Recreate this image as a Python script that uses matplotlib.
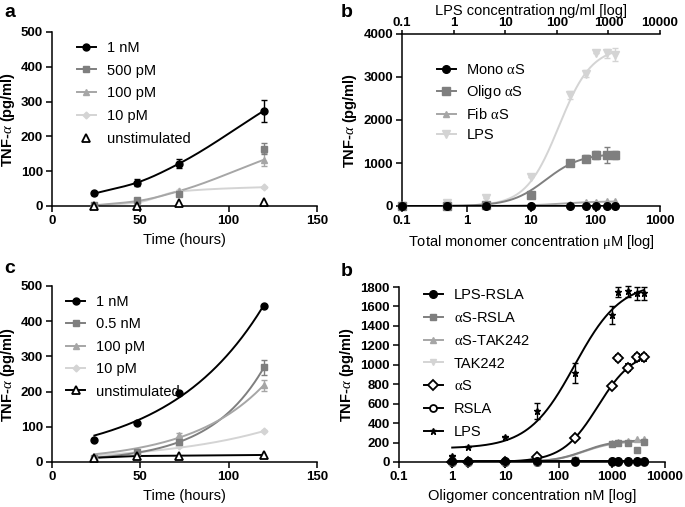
import numpy as np
import matplotlib
matplotlib.use("Agg")
import matplotlib.pyplot as plt
from matplotlib.lines import Line2D
from matplotlib.ticker import FuncFormatter, NullLocator, FixedLocator

plt.rcParams['font.family'] = ['Liberation Sans', 'DejaVu Sans']
plt.rcParams['mathtext.fontset'] = 'custom'
plt.rcParams['mathtext.rm'] = 'Liberation Serif'
plt.rcParams['mathtext.it'] = 'Liberation Serif:italic'

# ---------------- data ----------------
# panel a
a_time = [24, 48, 72, 120]
a_1nM = [36, 67, 122, 274]
a_1nM_err = [3, 10, 13, 32]
a_500pM = [4, 17, 34, 165]
a_500pM_err = [2, 4, 5, 17]
a_100pM = [2, 14, 43, 133]
a_100pM_err = [1, 3, 4, 18]
a_10pM = [1, 10, 42, 54]
a_10pM_err = [0.5, 1, 2, 2]
a_unstim = [0, 0, 10, 12]

# panel b (top right)
b_conc = [0.1, 0.5, 2, 10, 40, 70, 100, 150, 200]
b_mono = [0, 0, 0, 0, 0, 0, 0, 0, 0]
b_oligo = [0, 10, 30, 260, 1000, 1100, 1190, 1190, 1190]
b_oligo_err = [0, 0, 0, 0, 60, 80, 90, 180, 100]
b_fib = [0, 5, 10, 20, 50, 100, 100, 105, 105]
b_lps = [0, 60, 190, 680, 2580, 3080, 3560, 3550, 3520]
b_lps_err = [0, 0, 0, 0, 100, 90, 0, 100, 150]
b_top_ticks = [0.1, 1, 10, 100, 1000, 10000]

# panel c
c_time = [24, 48, 72, 120]
c_1nM = [62, 112, 195, 444]
c_05nM = [10, 27, 57, 269]
c_05nM_err = [2, 3, 4, 22]
c_100pM = [12, 30, 76, 218]
c_100pM_err = [2, 3, 5, 15]
c_10pM = [10, 25, 45, 87]
c_10pM_err = [1, 2, 2, 3]
c_unstim = [12, 17, 18, 20]

# panel d (bottom right)
d_conc = [1, 2, 10, 40, 200, 1000, 1300, 2000, 3000, 4000]
d_lps_rsla = [10, 10, 10, 10, 10, 10, 10, 10, 10, 10]
d_as_rsla = [0, 0, 0, 5, 20, 190, 200, 200, 125, 205]
d_as_tak = [0, 0, 0, 5, 30, 200, 210, 215, 235, 240]
d_tak = [0, 0, 0, 0, 0, 0, 0, 0, 0, 0]
d_as = [0, 0, 0, 55, 247, 778, 1070, 970, 1075, 1075]
d_as_err = [0, 0, 0, 0, 0, 0, 30, 35, 35, 35]
d_rsla = [0, 0, 0, 0, 0, 0, 0, 0, 0, 0]
d_lps = [60, 150, 260, 525, 915, 1510, 1750, 1755, 1735, 1735]
d_lps_err = [0, 0, 0, 85, 100, 95, 55, 60, 70, 70]

# fitted sigmoid parameters (bottom, top, EC50, Hill slope)
fit_b_oligo = (0, 1220, 17, 1.6)
fit_b_fib = (0, 110, 30, 1.5)
fit_b_lps = (0, 3700, 27, 1.7)
fit_d_lps = (140, 1850, 200, 1.0)
fit_d_as = (0, 1150, 550, 1.3)
fit_d_asrsla = (0, 215, 300, 1.5)

BLACK = '#000000'
DGRAY = '#7f7f7f'
MGRAY = '#a6a6a6'
LGRAY = '#d4d4d4'
AL = r'$\mathrm{\alpha}$'


def hill(x, p):
    b, t, ec, n = p
    return b + (t - b) / (1 + (ec / x) ** n)


def pchip(x, y, xn):
    x = np.asarray(x, float); y = np.asarray(y, float)
    h = np.diff(x); d = np.diff(y) / h
    m = np.zeros_like(y)
    for k in range(1, len(x) - 1):
        if d[k - 1] * d[k] > 0:
            w1 = 2 * h[k] + h[k - 1]; w2 = h[k] + 2 * h[k - 1]
            m[k] = (w1 + w2) / (w1 / d[k - 1] + w2 / d[k])
    m[0] = d[0]; m[-1] = d[-1] * 0.6 if d[-1] < d[-2] else d[-1]
    out = np.empty_like(xn, dtype=float)
    for i, xv in enumerate(xn):
        k = min(max(np.searchsorted(x, xv) - 1, 0), len(x) - 2)
        t = (xv - x[k]) / h[k]
        h00 = 2 * t**3 - 3 * t**2 + 1; h10 = t**3 - 2 * t**2 + t
        h01 = -2 * t**3 + 3 * t**2; h11 = t**3 - t**2
        out[i] = h00 * y[k] + h10 * h[k] * m[k] + h01 * y[k + 1] + h11 * h[k] * m[k + 1]
    return out


def expfit(x, y, xn):
    x = np.asarray(x, float); y = np.asarray(y, float)
    k, c = np.polyfit(x, np.log(y), 1, w=y)
    return np.exp(c + k * np.asarray(xn))


TFS = 9.5
LABELFS = 10.5
LEGFS = 10.5


def style(ax):
    for s in ['top', 'right']:
        ax.spines[s].set_visible(False)
    for s in ['left', 'bottom']:
        ax.spines[s].set_linewidth(1.1)
    ax.tick_params(width=1.1, length=4, direction='out', pad=2.5)
    for lab in ax.get_xticklabels() + ax.get_yticklabels():
        lab.set_fontweight('bold'); lab.set_fontsize(TFS)


def ylab(ax):
    ax.set_ylabel(r'TNF-$\alpha$ (pg/ml)', fontsize=LABELFS, fontweight='bold', labelpad=3)


fig = plt.figure(figsize=(6.85, 5.07), dpi=100)
W, H = 685, 507


def rect(l, r, t, b):
    return [l / W, (H - b) / H, (r - l) / W, (b - t) / H]


ax_a = fig.add_axes(rect(52, 317, 32, 206))
ax_b = fig.add_axes(rect(402, 660, 34, 206))
ax_c = fig.add_axes(rect(52, 317, 286, 462))
ax_d = fig.add_axes(rect(399, 665, 287, 462))

ebkw = dict(capsize=2.5, elinewidth=1.0, capthick=1.0, linestyle='none', clip_on=False, zorder=3)
legkw = dict(loc='upper left', frameon=False, fontsize=LEGFS, handlelength=1.3,
             handletextpad=0.75, borderaxespad=0.2)

# ---------------- panel a ----------------
tt = np.linspace(24, 120, 200)
ax_a.plot(tt, pchip(a_time, a_1nM, tt), color=BLACK, lw=1.4, zorder=2)
ax_a.plot(tt, pchip(a_time, a_100pM, tt), color=MGRAY, lw=1.4, zorder=2)
ax_a.plot(tt, pchip(a_time, a_10pM, tt), color=LGRAY, lw=1.4, zorder=1)
ax_a.errorbar(a_time, a_10pM, yerr=a_10pM_err, marker='D', ms=3.5, color=LGRAY, **ebkw)
ax_a.errorbar(a_time, a_100pM, yerr=a_100pM_err, marker='^', ms=5, color=MGRAY, **ebkw)
ax_a.errorbar(a_time, a_500pM, yerr=a_500pM_err, marker='s', ms=5, color=DGRAY, **ebkw)
ax_a.errorbar(a_time, a_1nM, yerr=a_1nM_err, marker='o', ms=5, color=BLACK, **ebkw)
ax_a.plot(a_time, a_unstim, linestyle='none', marker='^', ms=6, mfc='white', mec=BLACK, mew=1.3,
          clip_on=False, zorder=4)
ax_a.set_xlim(0, 150); ax_a.set_ylim(0, 500)
ax_a.set_xticks([0, 50, 100, 150]); ax_a.set_yticks([0, 100, 200, 300, 400, 500])
ax_a.set_xlabel('Time (hours)', fontsize=LABELFS)
ylab(ax_a)
style(ax_a)
h_a = [Line2D([], [], color=BLACK, marker='o', ms=5, lw=1.4),
       Line2D([], [], color=DGRAY, marker='s', ms=5, lw=1.4),
       Line2D([], [], color=MGRAY, marker='^', ms=5, lw=1.4),
       Line2D([], [], color=LGRAY, marker='D', ms=3.5, lw=1.4),
       Line2D([], [], color=BLACK, marker='^', ms=6, mfc='white', mew=1.3, lw=0)]
ax_a.legend(h_a, ['1 nM', '500 pM', '100 pM', '10 pM', 'unstimulated'],
            bbox_to_anchor=(0.06, 1.0), labelspacing=0.6, **legkw)

# ---------------- panel b ----------------
xx = np.logspace(np.log10(0.5), np.log10(200), 300)
ax_b.plot([0.1, 200], [0, 0], color=BLACK, lw=1.4, zorder=2)
ax_b.plot(xx, hill(xx, fit_b_lps), color=LGRAY, lw=1.4, zorder=1)
ax_b.plot(xx, hill(xx, fit_b_oligo), color=DGRAY, lw=1.4, zorder=1)
ax_b.plot(xx, hill(xx, fit_b_fib), color=MGRAY, lw=1.4, zorder=1)
ax_b.errorbar(b_conc, b_lps, yerr=b_lps_err, marker='v', ms=5.5, color=LGRAY, **ebkw)
ax_b.errorbar(b_conc, b_fib, marker='^', ms=5, color=MGRAY, **ebkw)
ax_b.errorbar(b_conc, b_oligo, yerr=b_oligo_err, marker='s', ms=5.5, color=DGRAY, **ebkw)
ax_b.errorbar(b_conc, b_mono, marker='o', ms=5.5, color=BLACK, **ebkw)
ax_b.set_xscale('log'); ax_b.set_xlim(0.1, 1000); ax_b.set_ylim(0, 4000)
ax_b.xaxis.set_major_locator(FixedLocator([0.1, 1, 10, 100, 1000]))
ax_b.xaxis.set_minor_locator(NullLocator())
ax_b.xaxis.set_major_formatter(FuncFormatter(lambda v, p: f'{v:g}'))
ax_b.set_yticks([0, 1000, 2000, 3000, 4000])
ax_b.set_xlabel(r'Total monomer concentration $\mathrm{\mu}$M [log]', fontsize=LABELFS)
ylab(ax_b)
style(ax_b)
ax_b2 = ax_b.twiny()
ax_b2.set_xscale('log'); ax_b2.set_xlim(0.1, 10000)
ax_b2.xaxis.set_major_locator(FixedLocator(b_top_ticks))
ax_b2.xaxis.set_minor_locator(NullLocator())
ax_b2.xaxis.set_major_formatter(FuncFormatter(lambda v, p: f'{v:g}'))
for s in ['left', 'right', 'bottom']:
    ax_b2.spines[s].set_visible(False)
ax_b2.spines['top'].set_linewidth(1.1)
ax_b2.tick_params(width=1.1, length=3, direction='out', pad=0.5)
for lab in ax_b2.get_xticklabels():
    lab.set_fontweight('bold'); lab.set_fontsize(TFS)
ax_b2.set_xlabel('LPS concentration ng/ml [log]', fontsize=LABELFS, labelpad=1.5)
h_b = [Line2D([], [], color=BLACK, marker='o', ms=5.5, lw=1.4),
       Line2D([], [], color=DGRAY, marker='s', ms=5.5, lw=1.4),
       Line2D([], [], color=MGRAY, marker='^', ms=5, lw=1.4),
       Line2D([], [], color=LGRAY, marker='v', ms=5.5, lw=1.4)]
ax_b.legend(h_b, ['Mono ' + AL + 'S', 'Oligo ' + AL + 'S', 'Fib ' + AL + 'S', 'LPS'],
            bbox_to_anchor=(0.1, 0.88), labelspacing=0.4, **legkw)

# ---------------- panel c ----------------
ax_c.plot(tt, expfit(c_time, c_1nM, tt), color=BLACK, lw=1.4, zorder=2)
ax_c.plot(tt, expfit(c_time, c_05nM, tt), color=DGRAY, lw=1.4, zorder=2)
ax_c.plot(tt, expfit(c_time, c_100pM, tt), color=MGRAY, lw=1.4, zorder=2)
ax_c.plot(tt, expfit(c_time, c_10pM, tt), color=LGRAY, lw=1.4, zorder=1)
ax_c.plot(c_time, c_unstim, color=BLACK, lw=1.4, zorder=2)
ax_c.errorbar(c_time, c_10pM, yerr=c_10pM_err, marker='D', ms=3.5, color=LGRAY, **ebkw)
ax_c.errorbar(c_time, c_100pM, yerr=c_100pM_err, marker='^', ms=5, color=MGRAY, **ebkw)
ax_c.errorbar(c_time, c_05nM, yerr=c_05nM_err, marker='s', ms=5, color=DGRAY, **ebkw)
ax_c.errorbar(c_time, c_1nM, marker='o', ms=5, color=BLACK, **ebkw)
ax_c.plot(c_time, c_unstim, linestyle='none', marker='^', ms=6, mfc='white', mec=BLACK, mew=1.3,
          clip_on=False, zorder=4)
ax_c.set_xlim(0, 150); ax_c.set_ylim(0, 500)
ax_c.set_xticks([0, 50, 100, 150]); ax_c.set_yticks([0, 100, 200, 300, 400, 500])
ax_c.set_xlabel('Time (hours)', fontsize=LABELFS)
ylab(ax_c)
style(ax_c)
h_c = [Line2D([], [], color=BLACK, marker='o', ms=5, lw=1.4),
       Line2D([], [], color=DGRAY, marker='s', ms=5, lw=1.4),
       Line2D([], [], color=MGRAY, marker='^', ms=5, lw=1.4),
       Line2D([], [], color=LGRAY, marker='D', ms=3.5, lw=1.4),
       Line2D([], [], color=BLACK, marker='^', ms=6, mfc='white', mew=1.3, lw=1.4)]
ax_c.legend(h_c, ['1 nM', '0.5 nM', '100 pM', '10 pM', 'unstimulated'],
            bbox_to_anchor=(0.02, 1.0), labelspacing=0.58, **legkw)

# ---------------- panel d ----------------
xd = np.logspace(0, np.log10(4000), 300)
ax_d.plot(xd, hill(xd, fit_d_asrsla), color=MGRAY, lw=1.4, zorder=1)
ax_d.plot(xd, hill(xd, fit_d_asrsla) * 1.05, color=DGRAY, lw=1.4, zorder=1)
ax_d.plot(xd, hill(xd, fit_d_lps), color=BLACK, lw=1.4, zorder=2)
ax_d.plot(xd, hill(xd, fit_d_as), color=BLACK, lw=1.4, zorder=2)
ax_d.errorbar(d_conc, d_tak, marker='v', ms=5, color=LGRAY, **ebkw)
ax_d.errorbar(d_conc, d_rsla, marker='o', ms=5, mfc='white', color=BLACK, mew=1.3, **ebkw)
ax_d.errorbar(d_conc, d_as, yerr=d_as_err, marker='D', ms=5, mfc='white', color=BLACK, mew=1.3, **ebkw)
ax_d.errorbar(d_conc, d_as_tak, marker='^', ms=5, color=MGRAY, **ebkw)
ax_d.errorbar(d_conc, d_as_rsla, marker='s', ms=5, color=DGRAY, **ebkw)
ax_d.errorbar(d_conc, d_lps, yerr=d_lps_err, marker='*', ms=5, color=BLACK, **ebkw)
ax_d.plot([1, 4000], [10, 10], color=BLACK, lw=1.4, zorder=4)
ax_d.plot(d_conc, d_lps_rsla, linestyle='none', marker='o', ms=5.5, color=BLACK, zorder=5, clip_on=False)
ax_d.set_xscale('log'); ax_d.set_xlim(0.1, 10000); ax_d.set_ylim(0, 1800)
ax_d.xaxis.set_major_locator(FixedLocator([0.1, 1, 10, 100, 1000, 10000]))
ax_d.xaxis.set_minor_locator(NullLocator())
ax_d.xaxis.set_major_formatter(FuncFormatter(lambda v, p: f'{v:g}'))
ax_d.set_yticks(np.arange(0, 1801, 200))
ax_d.set_xlabel('Oligomer concentration nM [log]', fontsize=LABELFS)
ylab(ax_d)
style(ax_d)
h_d = [Line2D([], [], color=BLACK, marker='o', ms=5.5, lw=1.4),
       Line2D([], [], color=DGRAY, marker='s', ms=5, lw=1.4),
       Line2D([], [], color=MGRAY, marker='^', ms=5, lw=1.4),
       Line2D([], [], color=LGRAY, marker='v', ms=5, lw=1.4),
       Line2D([], [], color=BLACK, marker='D', ms=5, mfc='white', mew=1.3, lw=1.4),
       Line2D([], [], color=BLACK, marker='o', ms=5, mfc='white', mew=1.3, lw=1.4),
       Line2D([], [], color=BLACK, marker='*', ms=5, lw=1.4)]
ax_d.legend(h_d, ['LPS-RSLA', AL + 'S-RSLA', AL + 'S-TAK242', 'TAK242', AL + 'S', 'RSLA', 'LPS'],
            bbox_to_anchor=(0.06, 1.045), labelspacing=0.61, **legkw)

# panel letters
fig.text(4 / W, 1 - 17 / H, 'a', fontsize=14, fontweight='bold')
fig.text(341 / W, 1 - 17 / H, 'b', fontsize=14, fontweight='bold')
fig.text(4 / W, 1 - 273 / H, 'c', fontsize=14, fontweight='bold')
fig.text(341 / W, 1 - 276 / H, 'b', fontsize=14, fontweight='bold')

fig.savefig('out.png', dpi=100)
